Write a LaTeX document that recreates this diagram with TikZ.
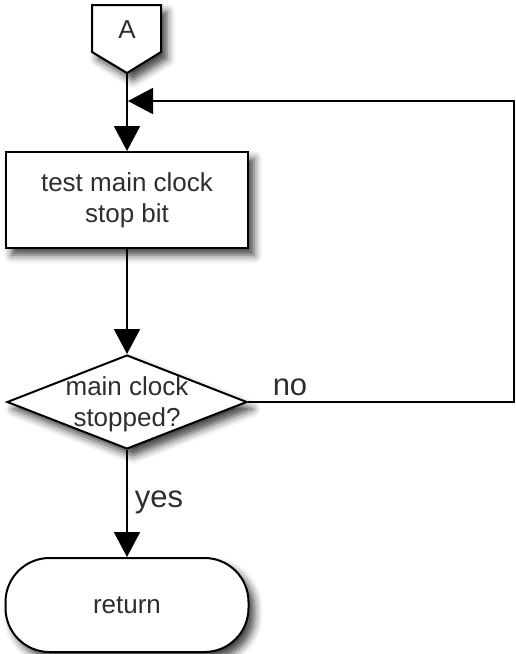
\documentclass[tikz,border=0pt]{standalone}
\usepackage{fontspec}
\setmainfont{Liberation Sans}
\usetikzlibrary{arrows.meta,shapes.geometric,shadows.blur}
\definecolor{ink}{HTML}{2E2E2E}
\begin{document}
\begin{tikzpicture}[x=1pt,y=-1pt,
  line width=2pt,
  boxfont/.style={font=\fontsize{26}{31}\selectfont,text=ink,align=center},
  lblfont/.style={font=\fontsize{31}{36}\selectfont,text=ink},
  soft/.style={blur shadow={shadow xshift=6pt,shadow yshift=-7pt,shadow blur radius=8pt,shadow opacity=75}},
  process/.style={draw,fill=white,soft,rectangle,minimum width=242pt,minimum height=96pt,inner sep=0pt,boxfont},
  decision/.style={draw,fill=white,soft,diamond,minimum width=240pt,minimum height=94pt,inner sep=0pt},
  terminal/.style={draw,fill=white,soft,rectangle,rounded corners=44pt,minimum width=243pt,minimum height=94pt,inner sep=0pt,boxfont},
  flow/.style={draw=black,-{Triangle[length=25pt,width=26pt,fill=black]}}]
\useasboundingbox (0,0) rectangle (516,654);

% off-page connector A
\draw[fill=white,soft] (92,5) -- (161,5) -- (161,52) -- (127,73) -- (92,52) -- cycle;
\node[boxfont] (A) at (127,30) {A};
\coordinate (Atip) at (127,73);
\coordinate (join) at (128,101);

% flow nodes
\node[process] (test) at (127,200) {test main clock\\stop bit};
\node[decision] (dec) at (127,402) {};
\node[boxfont] (dectext) at (127,404) {main clock\\stopped?};
\node[terminal] (ret) at (127,605) {return};

% corner of the loop back
\coordinate (c1) at (514,402);
\coordinate (c2) at (514,101);

% connectors
\draw[flow] (Atip) -- (test.north);
\draw[flow] (test.south) -- (dec.north);
\draw[flow] (dec.south) -- (ret.north);
\draw[flow] (dec.east) -- (c1) -- (c2) -- (join);

% branch labels
\node[lblfont,anchor=base] (no) at (290,395) {no};
\node[lblfont,anchor=base] (yes) at (159,507) {yes};
\end{tikzpicture}
\end{document}
